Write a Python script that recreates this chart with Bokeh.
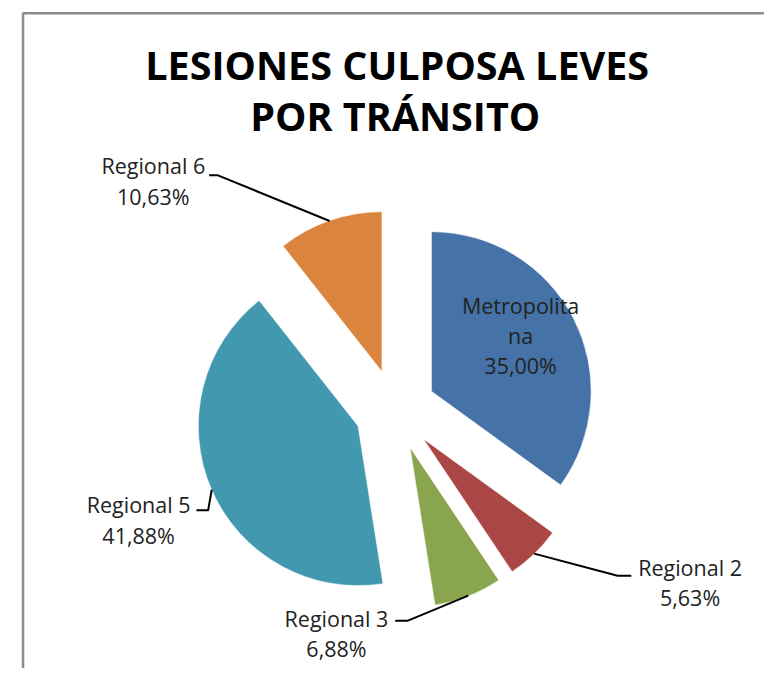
import numpy as np
from bokeh.plotting import figure
from bokeh.models import Range1d, ColumnDataSource
from bokeh.core.properties import value
from bokeh.embed import file_html
from bokeh.resources import INLINE

# ---------------- data ----------------
categories = ["Metropolitana", "Regional 2", "Regional 3", "Regional 5", "Regional 6"]
percentages = [35.00, 5.63, 6.88, 41.88, 10.63]
colors = ["#4572A7", "#AA4643", "#89A54E", "#4198AF", "#DB843D"]
title_lines = ["LESIONES CULPOSA LEVES", "POR TRÁNSITO"]

# ---------------- layout (reference-pixel coordinates) ----------------
W, H = 780, 684
def Y(y):
    return H - y

CX, CY = 403, 419        # pie centre
RADIUS = 163
EXPLODE = 41.5
FONT = "Open Sans"

# label centres and leader elbows/ends, in category order
label_pos = [(531, 343), (704, 596), (343, 648), (141, 532), (156, 185)]
leader_elbow = [None, (630, 589), (416, 635), (212, 522), (222, 179)]
leader_end = [None, (644, 589), (403, 635), (200, 522), (213, 179)]
wrap = {"Metropolitana": "Metropolita\nna"}

p = figure(width=764, height=668, output_backend="svg", toolbar_location=None,
           x_range=Range1d(0, W), y_range=Range1d(0, H), min_border=0)
p.axis.visible = False
p.grid.visible = False
p.outline_line_color = None
p.background_fill_color = "white"
p.border_fill_color = "white"

# chart area border
p.line([23, 23, 800], [Y(720), Y(13), Y(13)], line_color="#8c8c8c", line_width=2.5)

vals = np.array(percentages, dtype=float)
frac = vals / vals.sum()
cum = np.concatenate([[0], np.cumsum(frac)]) * 2 * np.pi   # clockwise from 12 o'clock
theta0, theta1 = cum[:-1], cum[1:]
mid = (theta0 + theta1) / 2
ox = CX + EXPLODE * np.sin(mid)
oy = Y(CY) + EXPLODE * np.cos(mid)

src = ColumnDataSource(dict(x=ox, y=oy,
                            start=np.pi / 2 - theta1, end=np.pi / 2 - theta0,
                            color=colors))
p.wedge(x="x", y="y", radius=RADIUS, start_angle="start", end_angle="end",
        fill_color="color", line_color="white", line_width=0.5, source=src)

# leader lines
for i in range(len(categories)):
    if leader_elbow[i] is None:
        continue
    ax = ox[i] + RADIUS * np.sin(mid[i])
    ay = oy[i] + RADIUS * np.cos(mid[i])
    ex, ey = leader_elbow[i]
    tx, ty = leader_end[i]
    p.line([ax, ex, tx], [ay, Y(ey), Y(ty)], line_color="black", line_width=2)

# labels
texts = []
for c, v in zip(categories, percentages):
    texts.append(wrap.get(c, c) + "\n" + f"{v:.2f}".replace(".", ",") + "%")
p.text(x=[lp[0] for lp in label_pos], y=[Y(lp[1]) for lp in label_pos], text=texts,
       text_font=value(FONT), text_font_size="21.5px", text_color="#222222",
       text_align="center", text_baseline="middle", text_line_height=1.05)

# title
p.text(x=[405, 403], y=[Y(66), Y(118)], text=title_lines,
       text_font=value(FONT), text_font_style="bold", text_font_size="39.5px",
       text_color="black", text_align="center", text_baseline="middle")

open("out.html", "w").write(file_html(p, INLINE))
